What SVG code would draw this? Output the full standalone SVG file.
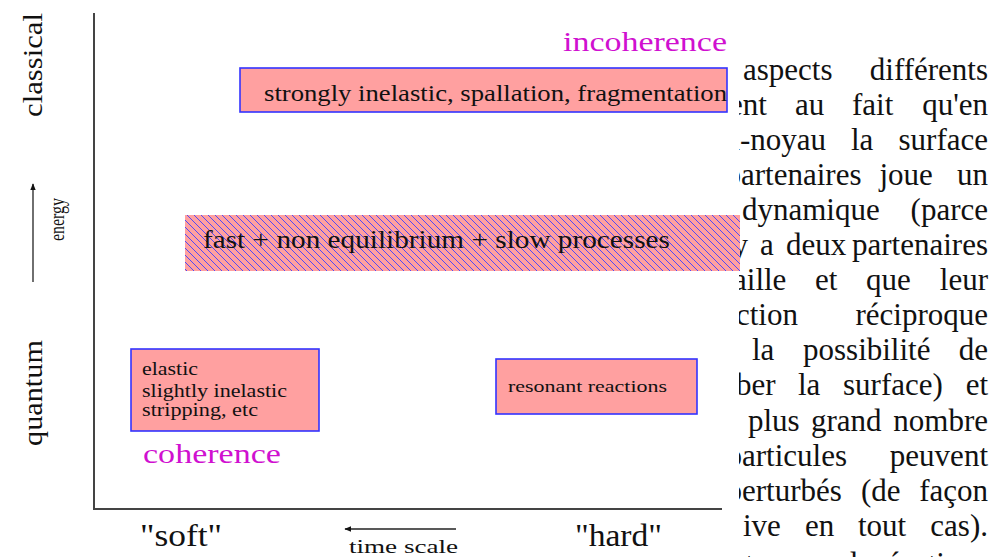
<svg xmlns="http://www.w3.org/2000/svg" width="1004" height="557" viewBox="0 0 1004 557">
<style>
.page{font-family:"Liberation Serif","Times New Roman",serif;font-size:31px;fill:#111}
.fig{font-family:"Liberation Serif","Times New Roman",serif;fill:#111}
.box{fill:#ffa0a0;stroke:#3333ff;stroke-width:1.6}
.mag{fill:#d010d0}
.axis{stroke:#444;stroke-width:2;fill:none}
.arr{stroke:#222;stroke-width:1.3;fill:none}
</style>
<defs>
<pattern id="hatch" patternUnits="userSpaceOnUse" width="7" height="7">
<rect width="7" height="7" fill="#ffa0a0"/>
<path d="M0,0 L7,7 M-1,6 L1,8 M6,-1 L8,1" stroke="#4040ff" stroke-width="0.9"/>
</pattern>
<marker id="ah" viewBox="0 0 10 10" refX="9" refY="5" markerWidth="7" markerHeight="7" markerUnits="userSpaceOnUse" orient="auto">
<path d="M0,1 L10,5 L0,9 z" fill="#111"/>
</marker>
<clipPath id="col"><rect x="739" y="0" width="265" height="557"/></clipPath>
</defs>
<rect width="1004" height="557" fill="#fff"/>

<g id="page-text" class="page" clip-path="url(#col)">
<text y="79.5"><tspan x="743">aspects</tspan><tspan x="988" text-anchor="end">différents</tspan></text>
<text y="114.6"><tspan x="729">ent</tspan><tspan x="795">au</tspan><tspan x="852">fait</tspan><tspan x="988" text-anchor="end">qu'en</tspan></text>
<text y="149.7"><tspan x="724.5">u-noyau</tspan><tspan x="851">la</tspan><tspan x="988" text-anchor="end">surface</tspan></text>
<text y="184.8"><tspan x="725.5">partenaires</tspan><tspan x="879.5">joue</tspan><tspan x="988" text-anchor="end">un</tspan></text>
<text y="219.9"><tspan x="742">dynamique</tspan><tspan x="988" text-anchor="end">(parce</tspan></text>
<text y="255"><tspan x="732.5">y</tspan><tspan x="760">a</tspan><tspan x="786">deux</tspan><tspan x="988" text-anchor="end">partenaires</tspan></text>
<text y="290.1"><tspan x="724.4">taille</tspan><tspan x="815">et</tspan><tspan x="866">que</tspan><tspan x="988" text-anchor="end">leur</tspan></text>
<text y="325.2"><tspan x="722.2">action</tspan><tspan x="988" text-anchor="end">réciproque</tspan></text>
<text y="360.3"><tspan x="752">la</tspan><tspan x="803">possibilité</tspan><tspan x="988" text-anchor="end">de</tspan></text>
<text y="395.4"><tspan x="725.7">rber</tspan><tspan x="798">la</tspan><tspan x="843">surface)</tspan><tspan x="988" text-anchor="end">et</tspan></text>
<text y="430.5"><tspan x="748">plus</tspan><tspan x="811">grand</tspan><tspan x="988" text-anchor="end">nombre</tspan></text>
<text y="465.6"><tspan x="726.5">particules</tspan><tspan x="988" text-anchor="end">peuvent</tspan></text>
<text y="500.7"><tspan x="726.5">perturbés</tspan><tspan x="861">(de</tspan><tspan x="988" text-anchor="end">façon</tspan></text>
<text y="535.8"><tspan x="743">ive</tspan><tspan x="805">en</tspan><tspan x="858">tout</tspan><tspan x="988" text-anchor="end">cas).</tspan></text>
<text y="574"><tspan x="745">types</tspan><tspan x="842">de</tspan><tspan x="988" text-anchor="end">réactions</tspan></text>
</g>

<g id="axes">
<line class="axis" x1="94" y1="13" x2="94" y2="509"/>
<line class="axis" x1="93" y1="509" x2="722" y2="509"/>
</g>

<g id="connectors">
<line class="arr" x1="33" y1="282" x2="33" y2="184" marker-end="url(#ah)"/>
<line class="arr" x1="456" y1="529" x2="345" y2="529" marker-end="url(#ah)"/>
</g>

<g id="axis-labels" class="fig">
<text transform="translate(42,117) rotate(-90)" font-size="28" textLength="104" lengthAdjust="spacingAndGlyphs">classical</text>
<text transform="translate(42,446) rotate(-90)" font-size="28" textLength="106" lengthAdjust="spacingAndGlyphs">quantum</text>
<text transform="translate(64,241) rotate(-90)" font-size="21" textLength="43" lengthAdjust="spacingAndGlyphs">energy</text>
<text x="140" y="546" font-size="32" textLength="82" lengthAdjust="spacingAndGlyphs">"soft"</text>
<text x="575" y="546" font-size="32" textLength="87" lengthAdjust="spacingAndGlyphs">"hard"</text>
<text x="349" y="553" font-size="19" textLength="109" lengthAdjust="spacingAndGlyphs">time scale</text>
</g>

<g id="incoherence" class="fig">
<text class="mag" x="563" y="51" font-size="27" textLength="164" lengthAdjust="spacingAndGlyphs">incoherence</text>
</g>

<g id="strongly-inelastic" class="fig">
<rect class="box" x="240" y="68" width="487" height="44"/>
<text x="264" y="101" font-size="23" textLength="463" lengthAdjust="spacingAndGlyphs">strongly inelastic, spallation, fragmentation</text>
</g>

<g id="non-equilibrium" class="fig">
<rect x="185" y="215" width="555" height="56" fill="url(#hatch)"/>
<text x="203" y="248" font-size="26" textLength="467" lengthAdjust="spacingAndGlyphs">fast + non equilibrium + slow processes</text>
</g>

<g id="elastic" class="fig">
<rect class="box" x="131" y="349" width="188" height="82"/>
<text x="142" y="375" font-size="18" textLength="56" lengthAdjust="spacingAndGlyphs">elastic</text>
<text x="142" y="396.5" font-size="18" textLength="145" lengthAdjust="spacingAndGlyphs">slightly inelastic</text>
<text x="142" y="416" font-size="18" textLength="116" lengthAdjust="spacingAndGlyphs">stripping, etc</text>
</g>

<g id="coherence" class="fig">
<text class="mag" x="143" y="463" font-size="27" textLength="138" lengthAdjust="spacingAndGlyphs">coherence</text>
</g>

<g id="resonant" class="fig">
<rect class="box" x="496" y="359" width="201" height="55"/>
<text x="508" y="391.5" font-size="17.5" textLength="159" lengthAdjust="spacingAndGlyphs">resonant reactions</text>
</g>
</svg>
